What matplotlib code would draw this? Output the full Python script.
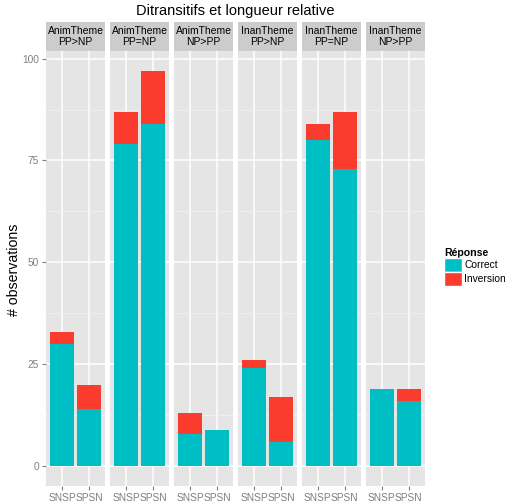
import numpy as np
import matplotlib.pyplot as plt
from matplotlib.patches import Patch

plt.rcParams['font.family'] = ['Liberation Sans', 'DejaVu Sans']

# data
panels = ['AnimTheme\nPP>NP', 'AnimTheme\nPP=NP', 'AnimTheme\nNP>PP',
          'InanTheme\nPP>NP', 'InanTheme\nPP=NP', 'InanTheme\nNP>PP']
orders = ['SNSP', 'SPSN']
correct = [[30, 14], [79, 84], [8, 9], [24, 6], [80, 73], [19, 16]]
inversion = [[3, 6], [8, 13], [5, 0], [2, 11], [4, 14], [0, 3]]

teal = '#00BFC4'
red = '#F93C2E'

W, H = 506, 504
fig = plt.figure(figsize=(W / 100, H / 100), dpi=100)

left0, right, gap = 46, 425, 4.5
pw = (right - left0 - 5 * gap) / 6
ptop, pbot, stop = 51, 486, 22

x = np.arange(1, len(orders) + 1)
for i, name in enumerate(panels):
    px = left0 + i * (pw + gap)
    ax = fig.add_axes([px / W, 1 - pbot / H, pw / W, (pbot - ptop) / H])
    ax.set_facecolor('#E5E5E5')
    ax.bar(x, correct[i], 0.9, color=teal, edgecolor='none')
    ax.bar(x, inversion[i], 0.9, bottom=correct[i], color=red, edgecolor='none')
    ax.set_xlim(0.4, 2.6)
    ax.set_ylim(-4.85, 101.85)
    ax.set_yticks([0, 25, 50, 75, 100])
    ax.set_yticks([12.5, 37.5, 62.5, 87.5], minor=True)
    ax.set_xticks(x)
    ax.set_xticklabels(orders)
    ax.grid(which='major', color='white', lw=1.1)
    ax.grid(which='minor', axis='y', color='#F2F2F2', lw=0.6)
    ax.set_axisbelow(True)
    for s in ax.spines.values():
        s.set_visible(False)
    ax.tick_params(which='major', length=3, color='#7F7F7F', labelcolor='#7F7F7F',
                   labelsize=7.3, pad=2)
    ax.tick_params(which='minor', length=0)
    if i > 0:
        ax.tick_params(axis='y', left=False, labelleft=False)

    sax = fig.add_axes([px / W, 1 - ptop / H, pw / W, (ptop - stop) / H])
    sax.set_facecolor('#CCCCCC')
    sax.set_xticks([])
    sax.set_yticks([])
    for s in sax.spines.values():
        s.set_visible(False)
    sax.text(0.5, 0.5, name, ha='center', va='center', fontsize=7.5,
             linespacing=1.2, transform=sax.transAxes)

fig.text((left0 + right) / 2 / W, 1 - 11 / H, 'Ditransitifs et longueur relative',
         ha='center', va='center', fontsize=10.5)
fig.text(14 / W, 1 - 270 / H, '# observations', rotation=90,
         ha='center', va='center', fontsize=10.2)

handles = [Patch(facecolor=teal, edgecolor='white', lw=1),
           Patch(facecolor=red, edgecolor='white', lw=1)]
leg = fig.legend(handles, ['Correct', 'Inversion'], title='Réponse',
                 loc='upper left', bbox_to_anchor=(437 / W, 1 - 241 / H),
                 frameon=False, fontsize=7.4, title_fontsize=7.6,
                 handlelength=1.7, handleheight=1.7, labelspacing=0.0,
                 handletextpad=0.25, alignment='left', borderpad=0.2)
leg.get_title().set_fontweight('bold')

fig.savefig('out.png', dpi=100)
